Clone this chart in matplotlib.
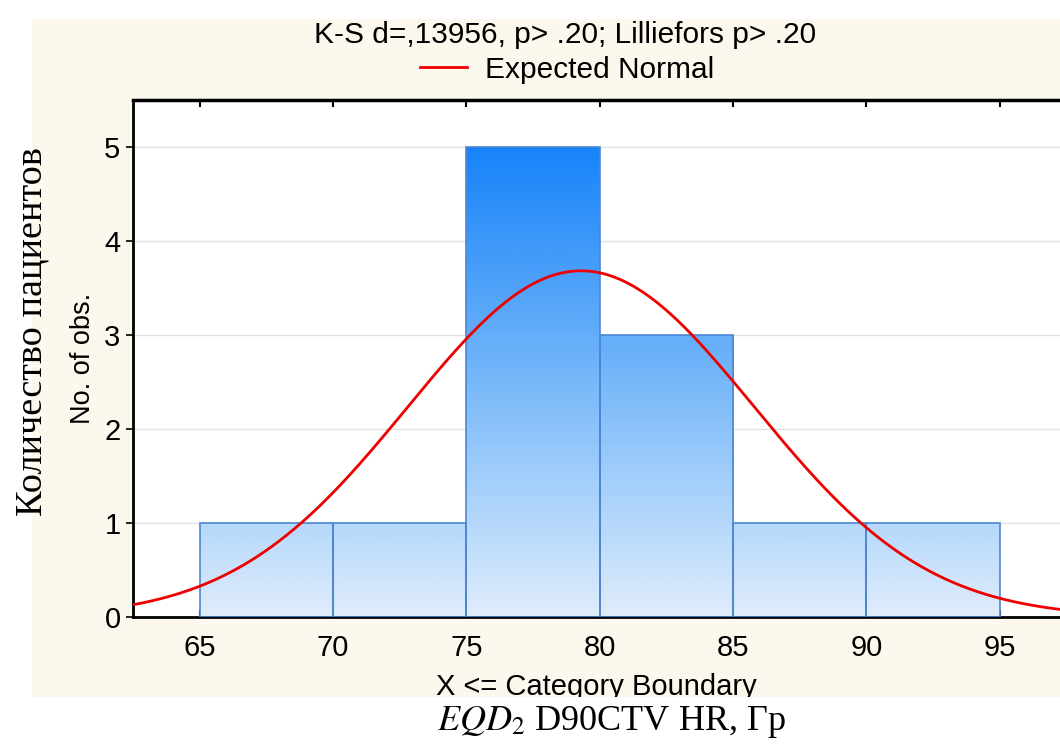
import numpy as np
import matplotlib
matplotlib.use("Agg")
import matplotlib.pyplot as plt
from matplotlib.colors import LinearSegmentedColormap
from matplotlib.patches import Rectangle

# histogram data
bin_edges = [65, 70, 75, 80, 85, 90, 95]
counts = [1, 1, 5, 3, 1, 1]
x_ticks = [65, 70, 75, 80, 85, 90, 95]
y_ticks = [0, 1, 2, 3, 4, 5]

# expected normal fit (mean, sd) estimated from the curve
norm_mean = 79.3
norm_sd = 6.5

title = "K-S d=,13956, p> .20; Lilliefors p> .20"
legend_label = "Expected Normal"
xlabel_inner = "X <= Category Boundary"
ylabel_inner = "No. of obs."
ylabel_outer = "Количество пациентов"

plt.rcParams["font.family"] = ["Liberation Sans", "DejaVu Sans"]
plt.rcParams["mathtext.fontset"] = "stix"

fig = plt.figure(figsize=(10.6, 7.44), dpi=100)
fig.patch.set_facecolor("white")

# cream panel behind the chart
fig.patches.append(Rectangle((0.03, 0.06), 0.97, 0.915, transform=fig.transFigure,
                             facecolor="#fcf8ee", edgecolor="none", zorder=-10))

ax = fig.add_axes([0.1255, 0.1707, 0.8745, 0.695])
ax.set_facecolor("white")
ax.set_xlim(62.5, 97.26)
ax.set_ylim(0, 5.5)

ax.yaxis.grid(True, color="#e2e2e2", linewidth=1)
ax.set_axisbelow(True)

# bars with gradient fill depending on height
cmap = LinearSegmentedColormap.from_list("bluegrad", ["#e0ecfb", "#b5d8fb", "#8cc3fa", "#63adf9", "#3d98f9", "#1783fa"])
grad = np.linspace(0, 1, 256).reshape(-1, 1)
widths = np.diff(bin_edges)
bars = ax.bar(bin_edges[:-1], counts, width=widths, align="edge",
              facecolor="none", edgecolor="#4a86d6", linewidth=1.2, zorder=3)
for b in bars:
    im = ax.imshow(grad, cmap=cmap, origin="lower", aspect="auto",
                   extent=[62.5, 97.26, 0, 5], zorder=2)
    im.set_clip_path(b)

xs = np.linspace(62.5, 97.3, 400)
n = sum(counts)
pdf = n * 5 / (norm_sd * np.sqrt(2 * np.pi)) * np.exp(-0.5 * ((xs - norm_mean) / norm_sd) ** 2)
line, = ax.plot(xs, pdf, color="#ee0000", linewidth=2, zorder=4)

ax.set_xticks(x_ticks)
ax.set_yticks(y_ticks)
ax.tick_params(axis="x", direction="in", length=5, width=1.5, top=True, labelsize=21, pad=12)
ax.tick_params(axis="y", direction="out", length=5, width=1.2, labelsize=21, pad=4)
for s in ["left", "bottom"]:
    ax.spines[s].set_linewidth(2)
ax.spines["top"].set_linewidth(2.5)
ax.spines["right"].set_visible(False)

ax.set_xlabel(xlabel_inner, fontsize=21, labelpad=8)
ax.set_ylabel(ylabel_inner, fontsize=19.5, labelpad=6)

fig.text(0.533, 0.953, title, ha="center", va="center", fontsize=21.5)
fig.legend([line], [legend_label], loc="center", bbox_to_anchor=(0.535, 0.906),
           frameon=False, fontsize=21.5, handlelength=1.6, handletextpad=0.6)

# white strip below the cream panel, clipping the inner x label
fig.patches.append(Rectangle((0, 0), 1, 0.063, transform=fig.transFigure,
                             facecolor="white", edgecolor="none", zorder=10))

fig.text(0.577, 0.029, r"$EQD_2$" + " D90CTV HR, Гр", ha="center", va="center",
         fontsize=26, family=["Liberation Serif", "DejaVu Serif"], zorder=11)
fig.text(0.03, 0.554, ylabel_outer, ha="center", va="center", rotation=90,
         fontsize=27.5, family=["Liberation Serif", "DejaVu Serif"])

fig.savefig("out.png", dpi=100)
